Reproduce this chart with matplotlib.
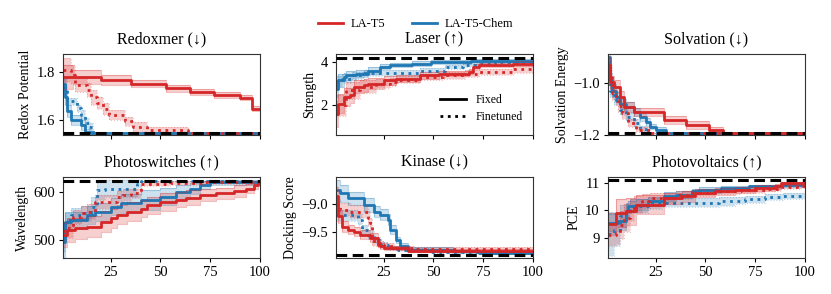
import matplotlib
matplotlib.use("Agg")
import matplotlib.pyplot as plt
from matplotlib.lines import Line2D

plt.rcParams['font.family'] = ['Liberation Serif', 'DejaVu Serif']

RED = '#d62728'
BLUE = '#1f77b4'

# each series: (iteration where value changes, best value so far, std)
titles = ['Redoxmer (↓)', 'Laser (↑)', 'Solvation (↓)',
          'Photoswitches (↑)', 'Kinase (↓)', 'Photovoltaics (↑)']
ylabels = ['Redox Potential', 'Strength', 'Solvation Energy',
           'Wavelength', 'Docking Score', 'PCE']
optimum = [1.548, 4.17, -1.191, 622.8, -9.9, 11.1]
ylims = [(1.54, 1.875), (0.64, 4.36), (-1.2, -0.888),
         (462, 631), (-9.96, -8.52), (8.28, 11.2)]
yticks = [[1.6, 1.8], [2, 4], [-1.2, -1.0], [500, 600], [-9.5, -9.0], [9, 10, 11]]
yticklabels = [['1.6', '1.8'], ['2', '4'], ['−1.2', '−1.0'],
               ['500', '600'], ['−9.5', '−9.0'], ['9', '10', '11']]

redox = {
    't5_fixed': ([1, 6, 20, 35, 53, 65, 77, 90, 96],
                 [1.78, 1.78, 1.767, 1.753, 1.733, 1.717, 1.705, 1.695, 1.648],
                 [0.05, 0.03, 0.02, 0.015, 0.015, 0.012, 0.012, 0.01, 0.01]),
    't5_ft': ([1, 5, 7, 13, 15, 18, 21, 24, 32, 36, 43, 64],
              [1.81, 1.79, 1.746, 1.727, 1.696, 1.674, 1.646, 1.624, 1.596, 1.574, 1.56, 1.548],
              [0.05, 0.04, 0.03, 0.03, 0.03, 0.025, 0.025, 0.02, 0.02, 0.02, 0.015, 0.0]),
    'chem_fixed': ([1, 2, 3, 5, 10, 12, 15],
                   [1.753, 1.696, 1.64, 1.603, 1.58, 1.553, 1.548],
                   [0.03, 0.03, 0.025, 0.02, 0.02, 0.01, 0.0]),
    'chem_ft': ([1, 3, 8, 10, 12, 14, 16],
                [1.74, 1.68, 1.65, 1.624, 1.59, 1.575, 1.548],
                [0.03, 0.015, 0.015, 0.02, 0.02, 0.015, 0.0]),
}
laser = {
    't5_fixed': ([1, 2, 5, 8, 10, 15, 17, 25, 31, 43, 53, 68, 70, 73, 90],
                 [1.6, 2.08, 2.38, 2.46, 2.85, 2.92, 3.0, 3.15, 3.23, 3.38, 3.46, 3.54, 3.77, 3.85, 3.92],
                 [0.6, 0.45, 0.4, 0.35, 0.3, 0.3, 0.25, 0.2, 0.15, 0.15, 0.12, 0.12, 0.12, 0.1, 0.1]),
    't5_ft': ([1, 6, 13, 21, 28, 31, 43, 55, 66, 73, 90],
              [2.0, 2.69, 2.85, 3.0, 3.08, 3.18, 3.3, 3.38, 3.46, 3.54, 3.65],
              [0.5, 0.4, 0.3, 0.2, 0.2, 0.15, 0.15, 0.15, 0.15, 0.15, 0.15]),
    'chem_fixed': ([1, 2, 5, 6, 11, 17, 23, 28, 39, 49, 69],
                   [2.77, 3.15, 3.3, 3.38, 3.46, 3.6, 3.77, 3.85, 3.92, 4.0, 4.06],
                   [0.4, 0.3, 0.2, 0.2, 0.15, 0.15, 0.12, 0.1, 0.1, 0.08, 0.06]),
    'chem_ft': ([1, 4, 9, 15, 43, 56, 65, 72, 81],
                [3.08, 3.23, 3.38, 3.49, 3.6, 3.77, 3.85, 3.92, 4.0],
                [0.25, 0.2, 0.15, 0.15, 0.12, 0.1, 0.1, 0.08, 0.06]),
}
solvation = {
    't5_fixed': ([1, 2, 4, 7, 9, 14, 29, 40, 52, 59],
                 [-0.93, -0.996, -1.015, -1.054, -1.092, -1.11, -1.143, -1.16, -1.18, -1.191],
                 [0.03, 0.025, 0.025, 0.025, 0.02, 0.015, 0.015, 0.015, 0.01, 0.0]),
    't5_ft': ([1, 3, 5, 6, 8, 11, 15, 22],
              [-0.96, -1.04, -1.066, -1.09, -1.117, -1.155, -1.18, -1.191],
              [0.03, 0.025, 0.02, 0.02, 0.02, 0.015, 0.01, 0.0]),
    'chem_fixed': ([1, 2, 3, 5, 7, 10, 14, 17, 20, 22, 25, 30],
                   [-0.9, -0.99, -1.03, -1.054, -1.08, -1.092, -1.11, -1.13, -1.149, -1.168, -1.18, -1.191],
                   [0.04, 0.03, 0.025, 0.02, 0.02, 0.02, 0.015, 0.015, 0.015, 0.01, 0.01, 0.0]),
    'chem_ft': ([1, 2, 4, 7, 10, 14, 17, 20],
                [-0.95, -1.03, -1.066, -1.104, -1.13, -1.155, -1.175, -1.191],
                [0.03, 0.025, 0.02, 0.02, 0.015, 0.015, 0.01, 0.0]),
}
photoswitch = {
    't5_fixed': ([1, 3, 7, 13, 20, 25, 28, 33, 40, 43, 50, 58, 63, 70, 78, 87, 93, 97, 99],
                 [510, 521, 524, 527, 538, 545, 552, 559, 565, 572, 579, 584, 588, 593, 597, 602, 607, 614, 620],
                 [25, 25, 22, 22, 22, 20, 20, 20, 18, 18, 18, 15, 15, 12, 12, 12, 10, 8, 5]),
    't5_ft': ([1, 3, 6, 10, 13, 17, 28, 31, 35, 40, 55, 71],
              [518, 524, 548, 555, 559, 579, 590, 593, 597, 617, 618, 620],
              [20, 20, 15, 15, 15, 15, 12, 12, 10, 5, 4, 3]),
    'chem_fixed': ([1, 2, 5, 13, 17, 25, 30, 40, 50, 58, 65, 70, 75],
                   [495, 538, 541, 552, 558, 569, 576, 583, 590, 600, 607, 614, 620],
                   [30, 20, 18, 18, 18, 18, 20, 20, 18, 15, 12, 8, 5]),
    'chem_ft': ([1, 2, 5, 10, 15, 18, 22, 38, 40],
                [505, 541, 552, 555, 569, 603, 607, 617, 622.8],
                [30, 15, 15, 15, 20, 20, 18, 8, 0]),
}
kinase = {
    't5_fixed': ([1, 2, 4, 7, 10, 13, 18, 22, 23, 25, 37],
                 [-8.85, -9.22, -9.4, -9.46, -9.49, -9.55, -9.6, -9.69, -9.75, -9.78, -9.83],
                 [0.15, 0.12, 0.1, 0.08, 0.08, 0.08, 0.08, 0.06, 0.05, 0.04, 0.03]),
    't5_ft': ([1, 3, 8, 17, 18, 19, 22, 25, 30, 40],
              [-9.0, -9.1, -9.135, -9.25, -9.34, -9.66, -9.72, -9.75, -9.78, -9.8],
              [0.15, 0.12, 0.12, 0.12, 0.1, 0.08, 0.06, 0.05, 0.04, 0.03]),
    'chem_fixed': ([1, 3, 7, 15, 20, 23, 27, 28, 31, 33, 37, 60, 73],
                   [-8.75, -8.81, -8.9, -9.02, -9.135, -9.19, -9.28, -9.46, -9.64, -9.75, -9.81, -9.84, -9.87],
                   [0.18, 0.15, 0.12, 0.12, 0.1, 0.1, 0.1, 0.08, 0.06, 0.05, 0.04, 0.03, 0.02]),
    'chem_ft': ([1, 12, 14, 17, 20, 23, 27, 32, 48],
                [-9.2, -9.28, -9.46, -9.55, -9.64, -9.72, -9.78, -9.81, -9.85],
                [0.1, 0.1, 0.08, 0.08, 0.06, 0.05, 0.04, 0.03, 0.02]),
}
photovoltaic = {
    't5_fixed': ([1, 5, 10, 15, 29, 38, 45, 55, 65, 75, 85, 88],
                 [9.5, 9.9, 9.96, 10.2, 10.44, 10.5, 10.62, 10.68, 10.74, 10.8, 10.86, 10.98],
                 [0.4, 0.5, 0.5, 0.35, 0.2, 0.2, 0.15, 0.12, 0.1, 0.1, 0.08, 0.05]),
    't5_ft': ([1, 5, 7, 9, 12, 14, 18, 22, 35, 43, 55, 68, 80, 88, 98],
              [9.1, 9.18, 9.48, 9.72, 10.02, 10.2, 10.32, 10.44, 10.56, 10.62, 10.68, 10.74, 10.78, 10.83, 10.88],
              [0.4, 0.4, 0.5, 0.5, 0.4, 0.3, 0.25, 0.2, 0.15, 0.12, 0.1, 0.1, 0.08, 0.08, 0.06]),
    'chem_fixed': ([1, 6, 10, 11, 15, 21, 29, 35, 43, 47, 58, 72, 88],
                   [9.55, 9.6, 9.96, 10.14, 10.2, 10.32, 10.5, 10.56, 10.68, 10.74, 10.8, 10.86, 10.9],
                   [0.3, 0.3, 0.25, 0.2, 0.2, 0.15, 0.15, 0.12, 0.1, 0.1, 0.08, 0.06, 0.05]),
    'chem_ft': ([1, 4, 7, 10, 12, 21, 28, 57, 65, 70, 80, 89],
                [9.15, 9.3, 9.78, 9.96, 10.14, 10.26, 10.28, 10.32, 10.35, 10.4, 10.47, 10.52],
                [0.8, 0.6, 0.4, 0.3, 0.25, 0.2, 0.15, 0.15, 0.12, 0.12, 0.1, 0.1]),
}
panels = [redox, laser, solvation, photoswitch, kinase, photovoltaic]

styles = {
    'chem_fixed': (BLUE, '-'),
    'chem_ft': (BLUE, ':'),
    't5_fixed': (RED, '-'),
    't5_ft': (RED, ':'),
}


def draw(ax, x, y, s, color, ls):
    xs = list(x) + [100]
    ys = list(y) + [y[-1]]
    ss = list(s) + [s[-1]]
    lo = [a - b for a, b in zip(ys, ss)]
    hi = [a + b for a, b in zip(ys, ss)]
    ax.fill_between(xs, lo, hi, step='post', color=color, alpha=0.22, lw=0)
    ax.step(xs, lo, where='post', color=color, alpha=0.3, lw=0.8, ls=ls)
    ax.step(xs, hi, where='post', color=color, alpha=0.3, lw=0.8, ls=ls)
    ax.step(xs, ys, where='post', color=color, lw=2, ls=ls)


fig = plt.figure(figsize=(8.31, 2.94), dpi=100)
lefts = [0.0758, 0.4043, 0.7316]
bottoms = [0.5408, 0.1224]
w, h = 0.237, 0.2755

for i, data in enumerate(panels):
    ax = fig.add_axes([lefts[i % 3], bottoms[i // 3], w, h])
    for key in ['chem_fixed', 'chem_ft', 't5_fixed', 't5_ft']:
        color, ls = styles[key]
        x, y, s = data[key]
        draw(ax, x, y, s, color, ls)
    ax.axhline(optimum[i], color='black', lw=2.2, ls=(0, (3.5, 1.8)), zorder=5)
    ax.set_xlim(1, 100)
    ax.set_ylim(*ylims[i])
    ax.set_xticks([25, 50, 75, 100])
    if i < 3:
        ax.set_xticklabels([])
    ax.set_yticks(yticks[i])
    ax.set_yticklabels(yticklabels[i])
    ax.tick_params(labelsize=10.5, length=3, width=0.8, pad=3)
    ax.set_title(titles[i], fontsize=11.5, pad=8)
    ax.set_ylabel(ylabels[i], fontsize=10, labelpad=3)
    for sp in ax.spines.values():
        sp.set_linewidth(0.8)
        sp.set_color('#333333')
    if i == 1:
        style_handles = [Line2D([], [], color='black', lw=2, ls='-'),
                         Line2D([], [], color='black', lw=2, ls=':')]
        ax.legend(style_handles, ['Fixed', 'Finetuned'], loc='lower right',
                  frameon=False, fontsize=8.5, handlelength=2.2,
                  bbox_to_anchor=(1.0, 0.02), labelspacing=0.4)

model_handles = [Line2D([], [], color=RED, lw=2), Line2D([], [], color=BLUE, lw=2)]
fig.legend(model_handles, ['LA-T5', 'LA-T5-Chem'], loc='center',
           bbox_to_anchor=(0.5, 0.918), ncol=2, frameon=False, fontsize=9,
           handlelength=2.0, handletextpad=0.6, columnspacing=2.2)

fig.savefig('out.png', dpi=100)
